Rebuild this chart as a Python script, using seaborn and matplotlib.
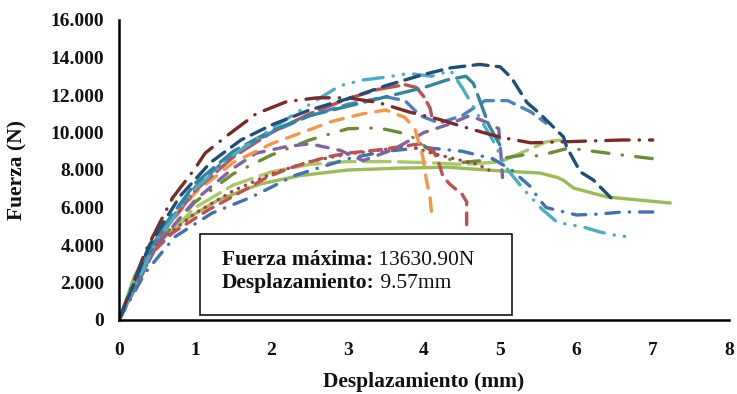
import matplotlib
matplotlib.use("Agg")
import matplotlib.pyplot as plt
import matplotlib.patches as mpatches
import seaborn as sns
import pandas as pd

# ---------------- data ----------------
green_x = [0, 0.2, 0.4, 0.85, 1.3, 1.85, 2.37, 3.0, 3.69, 4.3, 5.0, 5.52, 5.75, 5.83, 5.96, 6.4, 7.23]
green_y = [0, 2300, 3800, 5300, 6400, 7250, 7700, 8000, 8100, 8150, 7950, 7840, 7600, 7450, 7040, 6560, 6240]

lgreen_x = [0, 0.5, 1.0, 1.5, 2.0, 2.5, 3.0, 3.5, 4.0, 4.5, 5.0, 5.3, 5.6, 5.9]
lgreen_y = [0, 4000, 6000, 7200, 7900, 8300, 8450, 8450, 8400, 8300, 8430, 8960, 9500, 9650]

olive_x = [0, 0.5, 1.0, 1.5, 2.0, 2.5, 3.0, 3.4, 3.8, 4.0, 4.2, 4.5, 5.0, 5.3, 5.5, 5.9, 6.5, 7.15]
olive_y = [0, 4100, 6300, 7800, 8800, 9600, 10200, 10250, 9900, 9300, 8700, 8400, 8600, 8800, 8750, 9170, 8850, 8530]

blue2_x = [0, 0.34, 0.73, 1.22, 1.74, 2.3, 3.0, 3.5, 4.0, 4.5, 4.9, 5.15, 5.4, 5.5, 5.6, 6.0, 6.3, 6.6, 7.0]
blue2_y = [0, 2500, 4430, 5700, 6560, 7700, 8600, 9000, 9200, 9000, 8600, 8000, 7100, 6500, 6000, 5600, 5650, 5760, 5760]

dred_x = [0, 0.5, 1.0, 1.5, 2.0, 2.5, 3.0, 3.5, 3.8, 4.1, 4.4, 4.7, 4.85]
dred_y = [0, 4100, 5700, 6900, 7800, 8450, 8850, 9100, 9300, 8900, 8600, 8300, 8000]

red_x = [0, 0.38, 0.7, 1.17, 1.48, 1.95, 2.28, 2.73, 3.0, 3.4, 3.7, 3.95, 4.12, 4.2, 4.25, 4.35, 4.5, 4.56, 4.56]
red_y = [0, 3360, 4640, 5870, 6560, 7630, 8160, 8700, 8900, 9070, 9250, 9400, 9070, 8300, 7630, 7200, 6700, 6300, 4960]

purple_x = [0, 0.5, 1.0, 1.5, 1.8, 2.2, 2.5, 2.9, 3.2, 3.6, 4.0, 4.3, 4.6, 4.85, 4.98, 5.0, 5.03]
purple_y = [0, 4000, 6400, 8100, 8900, 9250, 9400, 9050, 8500, 9100, 10000, 10400, 10900, 10500, 10200, 9300, 7600]

orange_x = [0, 0.5, 1.0, 1.5, 2.0, 2.4, 2.8, 3.2, 3.5, 3.75, 3.88, 3.98, 4.03, 4.08, 4.1]
orange_y = [0, 4300, 6800, 8400, 9400, 10000, 10600, 11000, 11200, 10800, 10200, 8800, 7500, 6500, 5700]

redhi_x = [0, 0.5, 1.0, 1.5, 2.0, 2.5, 3.0, 3.4, 3.75, 3.9, 4.0, 4.08, 4.1]
redhi_y = [0, 4300, 6900, 8700, 10000, 11000, 11800, 12300, 12550, 12400, 11900, 11300, 10900]

blue_x = [0, 0.5, 1.0, 1.5, 2.0, 2.5, 3.0, 3.5, 3.75, 3.95, 4.2, 4.5, 4.8, 5.1, 5.4, 5.6]
blue_y = [0, 4400, 7100, 8900, 10000, 10900, 11500, 11900, 11700, 10900, 10500, 10900, 11700, 11700, 11100, 10500]

teal_x = [0, 0.5, 1.0, 1.5, 2.0, 2.5, 3.0, 3.5, 4.0, 4.3, 4.55, 4.65, 4.75, 4.85, 5.0]
teal_y = [0, 4500, 7300, 9000, 10100, 10900, 11400, 11900, 12400, 12800, 13000, 12600, 11500, 10400, 9300]

aqua_x = [0, 0.5, 1.0, 1.5, 2.0, 2.5, 2.9, 3.2, 3.5, 3.8, 4.1, 4.35, 4.5, 4.7, 4.9, 5.1, 5.3, 5.55, 5.75, 6.1, 6.3, 6.5, 6.75]
aqua_y = [0, 4300, 7000, 8800, 10200, 11500, 12500, 12800, 12950, 13150, 13000, 13300, 12400, 11000, 9600, 8000, 7000, 5900, 5200, 4950, 4700, 4530, 4400]

maroon_x = [0, 0.35, 0.7, 0.87, 1.0, 1.13, 1.43, 1.8, 2.2, 2.6, 3.0, 3.4, 3.8, 4.2, 4.6, 5.0, 5.4, 5.8, 6.2, 6.6, 7.0]
maroon_y = [0, 3700, 6500, 7400, 8100, 8900, 9870, 11000, 11650, 11850, 11850, 11600, 11100, 10700, 10200, 9750, 9450, 9500, 9550, 9600, 9600]

navy_x = [0, 0.4, 0.8, 1.2, 1.6, 2.0, 2.5, 3.0, 3.5, 4.0, 4.35, 4.73, 5.0, 5.15, 5.35, 5.52, 5.83, 5.87, 6.05, 6.22, 6.48]
navy_y = [0, 4000, 6600, 8400, 9600, 10400, 11200, 11800, 12500, 13100, 13450, 13630, 13500, 12900, 11600, 11000, 9760, 9230, 7900, 7470, 6400]

curves = {
    "green": (green_x, green_y),
    "lgreen": (lgreen_x, lgreen_y),
    "olive": (olive_x, olive_y),
    "blue2": (blue2_x, blue2_y),
    "dred": (dred_x, dred_y),
    "red": (red_x, red_y),
    "purple": (purple_x, purple_y),
    "orange": (orange_x, orange_y),
    "redhi": (redhi_x, redhi_y),
    "blue": (blue_x, blue_y),
    "teal": (teal_x, teal_y),
    "aqua": (aqua_x, aqua_y),
    "maroon": (maroon_x, maroon_y),
    "navy": (navy_x, navy_y),
}

x_ticks = [0, 1, 2, 3, 4, 5, 6, 7, 8]
y_ticks = [0, 2000, 4000, 6000, 8000, 10000, 12000, 14000, 16000]
y_tick_labels = ["0", "2.000", "4.000", "6.000", "8.000", "10.000", "12.000", "14.000", "16.000"]

annot_bold = ["Fuerza máxima:", "Desplazamiento:"]
annot_val = [" 13630.90N", " 9.57mm"]

# ---------------- styles ----------------
palette = {
    "green": "#9BBB59", "lgreen": "#A9C86A", "olive": "#6E8B35", "blue2": "#3F72AF",
    "dred": "#A8423F", "red": "#C0504D", "purple": "#8064A2", "orange": "#F79646",
    "redhi": "#C0504D", "blue": "#4F81BD", "teal": "#31859C", "aqua": "#4BACC6",
    "maroon": "#7B2A28", "navy": "#1F4E79",
}
dashes = {
    "green": "", "lgreen": (8, 2.5), "olive": (5, 4, 0.1, 4), "blue2": (4, 3, 0.1, 3),
    "dred": (0.1, 2.2), "red": (3.5, 2.5), "purple": (3.5, 3), "orange": (4, 3),
    "redhi": (7, 2), "blue": (4, 2.5), "teal": (7, 2.5), "aqua": (6, 3, 0.1, 3, 0.1, 3),
    "maroon": (7, 3, 0.1, 3), "navy": (4.5, 2.5),
}

frames = []
for name, (xs, ys) in curves.items():
    frames.append(pd.DataFrame({"x": xs, "y": ys, "curve": name}))
df = pd.concat(frames, ignore_index=True)

sns.set_style("white")
serif = ["Liberation Serif", "DejaVu Serif"]
plt.rcParams["font.family"] = serif

fig = plt.figure(figsize=(7.37, 3.94), dpi=100)
ax = fig.add_axes([119 / 737, 74 / 394, 610 / 737, 300 / 394])

sns.lineplot(data=df, x="x", y="y", hue="curve", style="curve", units="curve",
             estimator=None, sort=False, palette=palette, dashes=dashes,
             hue_order=list(curves.keys()), style_order=list(curves.keys()),
             linewidth=2.4, legend=False, ax=ax,
             dash_capstyle="round", solid_capstyle="round")

ax.set_xlim(0, 8)
ax.set_ylim(0, 16000)
ax.set_xticks(x_ticks)
ax.set_xticklabels([str(t) for t in x_ticks])
ax.set_yticks(y_ticks)
ax.set_yticklabels(y_tick_labels)

for s in ["top", "right"]:
    ax.spines[s].set_visible(False)
for s in ["left", "bottom"]:
    ax.spines[s].set_color("black")
    ax.spines[s].set_linewidth(1.8)
    ax.spines[s].set_zorder(5)

ax.tick_params(axis="both", direction="inout", length=9, width=1.4, color="black",
               labelsize=14, labelcolor="#111111")
ax.tick_params(axis="x", pad=11)
ax.tick_params(axis="y", pad=6)
for lab in ax.get_xticklabels() + ax.get_yticklabels():
    lab.set_fontweight("bold")

ax.set_xlabel("Desplazamiento (mm)", fontsize=15.5, fontweight="bold", color="#111111")
ax.set_ylabel("Fuerza (N)", fontsize=15.5, fontweight="bold", color="#111111")
ax.xaxis.label.set_va("center")
ax.yaxis.label.set_va("center")
ax.yaxis.label.set_ha("center")
ax.xaxis.set_label_coords(0.5, -0.207)
ax.yaxis.set_label_coords(-0.166, 0.5)

# annotation box
box = mpatches.Rectangle((1.062, 267), 4.092, 4320, facecolor="white", edgecolor="black",
                         linewidth=1.1, zorder=6)
ax.add_patch(box)
base_y = [2933, 1707]
for b, v, yy in zip(annot_bold, annot_val, base_y):
    t = ax.text(1.35, yy, b, fontsize=15.5, fontweight="bold", va="baseline", ha="left",
                zorder=7, color="#111111")
    ax.annotate(v, xy=(1, 0), xycoords=t, va="bottom", ha="left", fontsize=15.5,
                zorder=7, color="#111111")

fig.savefig("out.png", dpi=100)
